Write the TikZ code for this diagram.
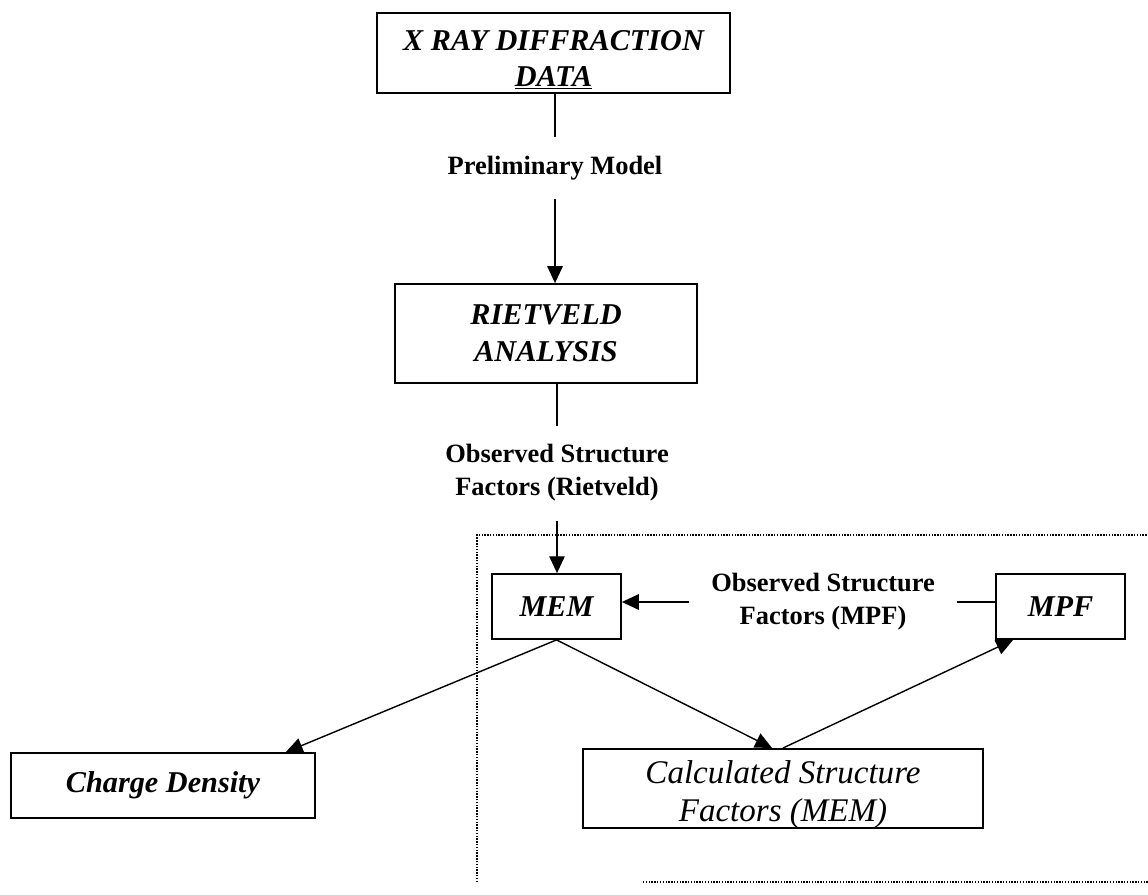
\documentclass[tikz,border=0pt]{standalone}
\usepackage{fontspec}
\setmainfont{Liberation Serif}
\usepackage{tikz}
\usetikzlibrary{arrows.meta,calc}

\begin{document}
\begin{tikzpicture}[
		x=0.025cm, y=-0.025cm,
		box/.style={rectangle, draw, line width=1.1pt, align=center, inner sep=0pt,
			font=\fontsize{21.5}{26}\selectfont\bfseries\itshape},
		note/.style={align=center, inner xsep=15pt, inner ysep=13pt,
			font=\fontsize{18.8}{23.5}\selectfont\bfseries},
		arrow/.style={-{Triangle[length=12pt, width=11pt]}},
		every path/.append style={line width=1pt}
	]
  \useasboundingbox (0, 0) rectangle (1148, 894);
  \node (xrd) [box, minimum width=8.83cm, minimum height=2cm] at (553.5, 53) {\rule{0pt}{24pt}X RAY DIFFRACTION\\[-1pt]\underline{DATA}};
  \node (prelim) [note] at (555, 168) {Preliminary Model};
  \node (riet) [box, minimum width=7.55cm, minimum height=2.48cm] at (546, 333.5) {RIETVELD\\ANALYSIS};
  \node (obsriet) [note] at (557, 473) {Observed Structure\\Factors (Rietveld)};
  \node (mem) [box, minimum width=3.23cm, minimum height=1.63cm] at (556.5, 606.5) {MEM};
  \node (obsmpf) [note] at (823, 602) {Observed Structure\\Factors (MPF)};
  \node (mpf) [box, minimum width=3.23cm, minimum height=1.63cm] at (1060.5, 606.5) {MPF};
  \node (cd) [box, minimum width=7.6cm, minimum height=1.63cm] at (163, 785.5) {Charge Density};
  \node (calc) [box, font=\fontsize{23.5}{26.5}\selectfont\itshape, minimum width=10cm, minimum height=1.98cm] at (783, 788.5) {\rule{0pt}{25pt}Calculated Structure\\Factors (MEM)};
  \draw (xrd.south -| prelim) -- (prelim.north);
  \draw [arrow] (prelim.south) -- (prelim.south |- riet.north);
  \draw (riet.south -| obsriet) -- (obsriet.north);
  \draw [arrow] (obsriet.south) -- (obsriet.south |- mem.north);
  \draw [arrow] (obsmpf.west) -- (obsmpf.west -| mem.east);
  \draw (mpf.west |- obsmpf.east) -- (obsmpf.east);
  \draw [arrow] (mem.south) -- ($(cd.north east)+(-30, 0)$);
  \draw [arrow] (mem.south) -- ($(calc.north)+(-11, 0)$);
  \draw [arrow] (calc.north) -- ($(mpf.south west)+(18, 0)$);
  \draw [densely dotted, line width=1.1pt] (477, 882) -- (477, 535) -- (1148, 535);
  \draw [densely dotted, line width=1.1pt] (643, 882) -- (1148, 882);
\end{tikzpicture}
\end{document}
